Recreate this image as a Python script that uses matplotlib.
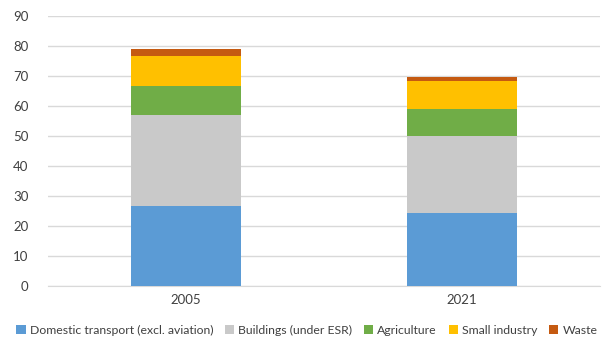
import matplotlib.pyplot as plt
import numpy as np

plt.rcParams['font.family'] = ['Lato', 'DejaVu Sans']

years = ['2005', '2021']
sectors = ['Domestic transport (excl. aviation)', 'Buildings (under ESR)',
           'Agriculture', 'Small industry', 'Waste']
transport = [26.7, 24.3]
buildings = [30.3, 25.7]
agriculture = [9.7, 9.1]
small_industry = [10.1, 9.3]
waste = [2.2, 1.2]
colors = ['#5B9BD5', '#C9C9C9', '#70AD47', '#FFC000', '#C55A11']

fig = plt.figure(figsize=(6.05, 3.4), dpi=100)
ax = fig.add_axes([48 / 605, 54 / 340, 552 / 605, 270 / 340])

x = np.arange(len(years))
bottom = np.zeros(len(years))
for name, vals, col in zip(sectors, [transport, buildings, agriculture, small_industry, waste], colors):
    ax.bar(x, vals, width=0.4, bottom=bottom, color=col, label=name, zorder=3)
    bottom += np.array(vals)

ax.set_xlim(-0.5, 1.5)
ax.set_ylim(0, 90)
ax.set_yticks(range(0, 91, 10))
ax.set_xticks(x)
ax.set_xticklabels(years)
ax.grid(axis='y', color='#D9D9D9', linewidth=1, zorder=0)
for s in ['top', 'right', 'left']:
    ax.spines[s].set_visible(False)
ax.spines['bottom'].set_color('#D9D9D9')
ax.tick_params(axis='both', length=0, labelsize=9.5, colors='#404040', pad=6)
ax.tick_params(axis='y', pad=14)

ax.legend(loc='center', bbox_to_anchor=(307 / 605, 10 / 340), bbox_transform=fig.transFigure,
          ncol=5, frameon=False, fontsize=8.8, handlelength=0.75, handleheight=0.75,
          handletextpad=0.35, columnspacing=0.95, labelcolor='#404040')

fig.savefig('out.png', dpi=100)
